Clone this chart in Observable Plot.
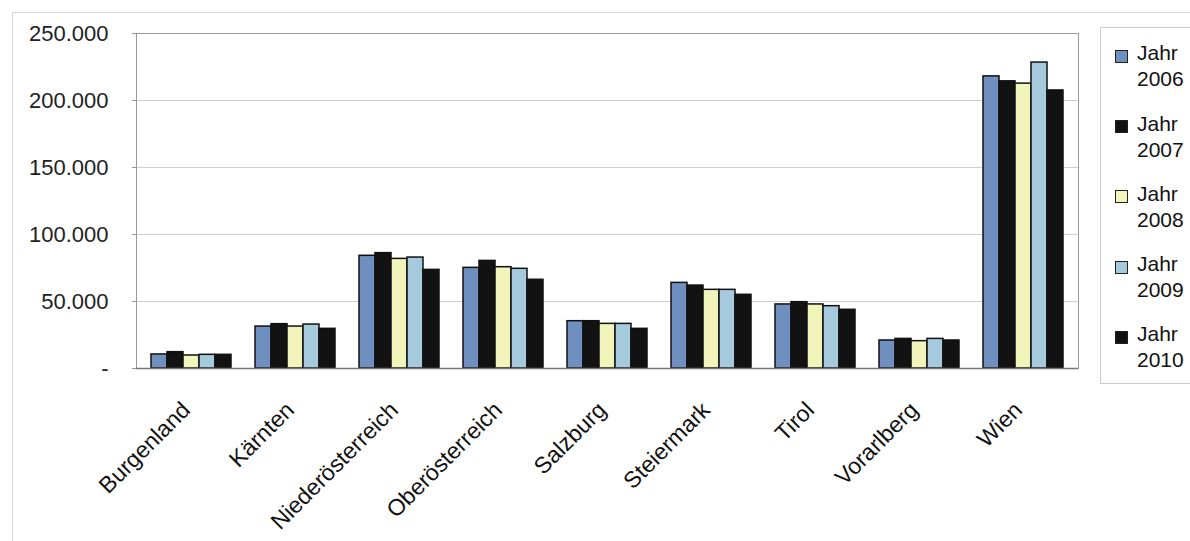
<!DOCTYPE html>
<html><head><meta charset="utf-8">
<script src="https://cdn.jsdelivr.net/npm/d3@7"></script>
<script src="https://cdn.jsdelivr.net/npm/@observablehq/plot@0.6"></script>
<style>
body{margin:0;background:#fff;font-family:"Liberation Sans",Arial,sans-serif;}
#wrap{position:relative;width:1190px;height:541px;overflow:hidden;background:#fff;}
#outer{position:absolute;left:12px;top:12px;width:1300px;height:700px;border-top:1px solid #d6d6d6;border-left:1px solid #d6d6d6;}
#chart{position:absolute;left:0;top:0;}
#legend{position:absolute;left:1100px;top:27px;width:140px;height:355px;border:1px solid #cdcdcd;background:#fff;}
.item{position:absolute;left:14px;font-size:21px;line-height:26px;color:#111;}
.sw{position:absolute;left:0;width:11px;height:11px;border:1.5px solid #222;}
.txt{position:absolute;left:22px;top:0;white-space:nowrap;}
</style></head>
<body>
<div id="wrap"><div id="outer"></div><div id="chart"></div><div id="legend"></div></div>
<script>
// ---- data ----
const regions = ["Burgenland","Kärnten","Niederösterreich","Oberösterreich","Salzburg","Steiermark","Tirol","Vorarlberg","Wien"];
const years = ["2006","2007","2008","2009","2010"];
const v2006 = [10500, 31300, 84100, 75100, 35300, 63900, 47800, 20900, 218000];
const v2007 = [12200, 33100, 86100, 80300, 35300, 61900, 49500, 22100, 214300];
const v2008 = [ 9700, 31300, 81800, 75600, 33300, 58700, 47800, 20400, 212600];
const v2009 = [10200, 32800, 82800, 74400, 33300, 58700, 46500, 22100, 228300];
const v2010 = [10200, 29600, 73600, 66200, 29600, 55000, 43800, 20900, 207500];
const yTicks = [0, 50000, 100000, 150000, 200000, 250000];
const colors = ["#6f8fbf", "#121212", "#f1f5bb", "#a6cadd", "#121212"];

const series = [v2006, v2007, v2008, v2009, v2010];
const table = [];
years.forEach((yr, j) => regions.forEach((r, i) => table.push({region: r, year: yr, value: series[j][i]})));

const fmt = d => d === 0 ? "-" : d3.format(",")(d).replace(/,/g, ".");
const bw = 16;

const marks = [
  Plot.gridY(yTicks.filter(t => t > 0 && t < 250000), {stroke: "#cfcfcf", strokeOpacity: 1}),
  ...years.map((yr, j) => Plot.barY(table.filter(d => d.year === yr), {
    x: "region", y: "value", fill: colors[j], stroke: "#111", strokeWidth: 1.5,
    insetLeft: j * bw, insetRight: (years.length - 1 - j) * bw
  })),
  Plot.frame({stroke: "#9a9a9a"}),
  Plot.ruleY([0], {stroke: "#777", strokeWidth: 1.5}),
  Plot.axisY({ticks: yTicks, tickFormat: fmt, tickSize: 4, tickPadding: 24, fontSize: 22, stroke: "#999", fill: "#222", label: null}),
  Plot.text(regions, {x: d => d, frameAnchor: "bottom", dy: 43, rotate: -45, textAnchor: "end", lineAnchor: "bottom", fontSize: 23, fill: "#111"})
];

const chart = Plot.plot({
  width: 1190, height: 541,
  marginTop: 33, marginRight: 112, marginBottom: 173, marginLeft: 136,
  style: {fontFamily: "Liberation Sans, Arial, sans-serif", background: "transparent", overflow: "visible"},
  x: {domain: regions, paddingInner: 0.235, paddingOuter: 0.1175, axis: null},
  y: {domain: [0, 250000], axis: null},
  marks
});
document.getElementById("chart").appendChild(chart);

// ---- legend ----
const legend = document.getElementById("legend");
years.forEach((yr, j) => {
  const it = document.createElement("div");
  it.className = "item";
  it.style.top = (12.4 + j * 70.25) + "px";
  const sw = document.createElement("div");
  sw.className = "sw";
  sw.style.top = "9.6px";
  sw.style.background = colors[j];
  const tx = document.createElement("div");
  tx.className = "txt";
  tx.innerHTML = "Jahr<br>" + yr;
  it.appendChild(sw); it.appendChild(tx);
  legend.appendChild(it);
});
</script>
</body></html>
